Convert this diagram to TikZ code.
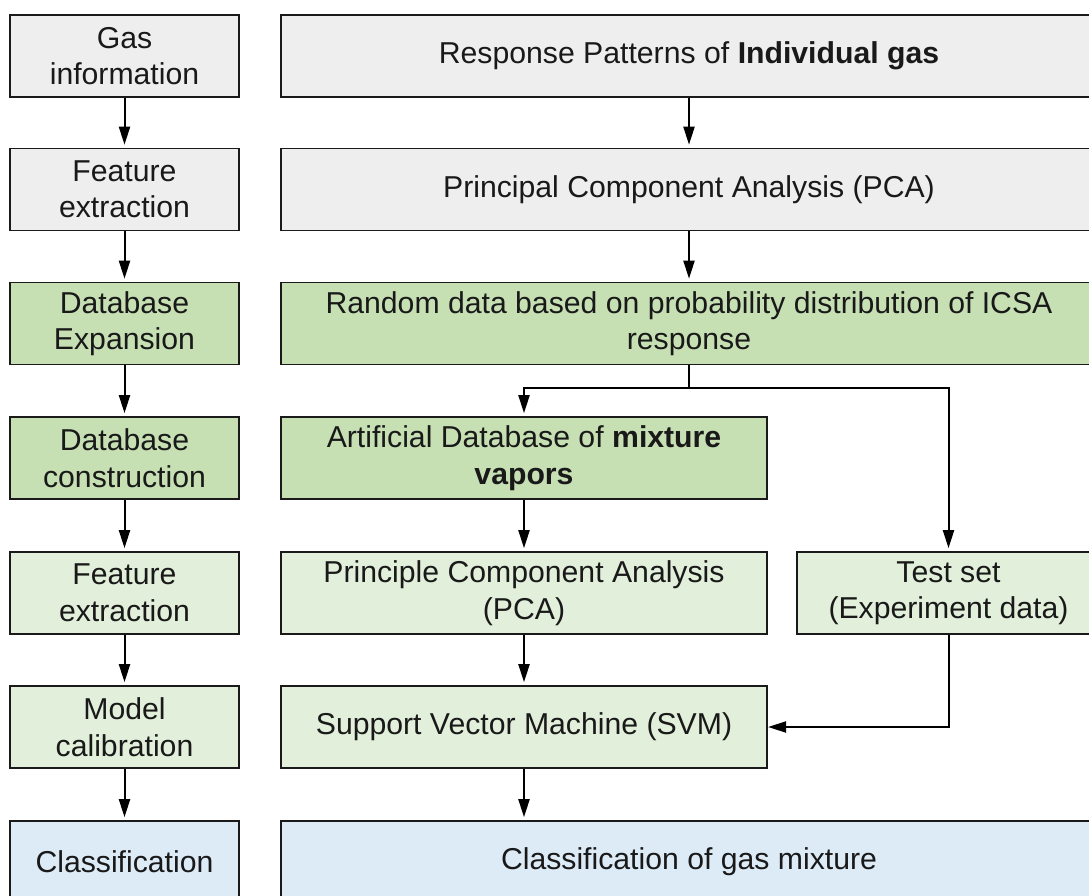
\documentclass[tikz,border=0pt]{standalone}
\usepackage{fontspec}
\setmainfont{Liberation Sans}
\usetikzlibrary{arrows.meta}
\definecolor{cgray}{HTML}{EEEEEE}
\definecolor{cdgreen}{HTML}{C6E0B4}
\definecolor{clgreen}{HTML}{E2EFDA}
\definecolor{cblue}{HTML}{DDEBF7}
\definecolor{cline}{HTML}{1A1A1A}
\tikzset{
  box/.style={draw=cline, line width=1.6pt, inner sep=0pt, align=center,
    minimum height=82pt, text=black!90,
    font=\fontsize{30.2}{36.5}\selectfont},
  lbox/.style={box, minimum width=229pt},
  wbox/.style={box, minimum width=816pt},
  hbox/.style={box, minimum width=486.5pt},
  arr/.style={draw=black, line width=2pt, -{Triangle[length=18pt,width=11pt]}, shorten >=3pt},
  ln/.style={draw=black, line width=2pt}
}
\begin{document}
\begin{tikzpicture}[x=1pt,y=-1pt]
\useasboundingbox (0,0) rectangle (1089,896);
\clip (0,0) rectangle (1089,896);
\fill[white] (0,0) rectangle (1089,896);
% left column
\node[lbox, fill=cgray]   (l1) at (124.5,56)    {Gas\\information};
\node[lbox, fill=cgray]   (l2) at (124.5,189.5) {Feature\\extraction};
\node[lbox, fill=cdgreen] (l3) at (124.5,323.5) {Database\\Expansion};
\node[lbox, fill=cdgreen] (l4) at (124.5,458)   {Database\\construction};
\node[lbox, fill=clgreen] (l5) at (124.5,593)   {Feature\\extraction};
\node[lbox, fill=clgreen] (l6) at (124.5,727)   {Model\\calibration};
\node[lbox, fill=cblue]   (l7) at (124.5,862)   {Classification};
% right column
\node[wbox, fill=cgray]   (r1) at (689,56)    {Response Patterns of \textbf{Individual gas}};
\node[wbox, fill=cgray]   (r2) at (689,189.5) {Principal Component Analysis (PCA)};
\node[wbox, fill=cdgreen] (r3) at (689,323.5) {Random data based on probability distribution of ICSA\\response};
\node[hbox, fill=cdgreen] (r4) at (524,458)   {Artificial Database of \textbf{mixture}\\\textbf{vapors}};
\node[hbox, fill=clgreen] (r5) at (524,593)   {Principle Component Analysis\\(PCA)};
\node[box, minimum width=303pt, fill=clgreen] (t5) at (948.5,593) {Test set\\(Experiment data)};
\node[hbox, fill=clgreen] (r6) at (524,727)   {Support Vector Machine (SVM)};
\node[wbox, fill=cblue]   (r7) at (689,862)   {Classification of gas mixture};
% left arrows
\draw[arr] (l1) -- (l2);
\draw[arr] (l2) -- (l3);
\draw[arr] (l3) -- (l4);
\draw[arr] (l4) -- (l5);
\draw[arr] (l5) -- (l6);
\draw[arr] (l6) -- (l7);
% right arrows
\draw[arr] (r1) -- (r2);
\draw[arr] (r2) -- (r3);
\coordinate (j) at (689,388);
\draw[ln] (r3.south) -- (j);
\draw[arr] (j) -| (r4.north);
\draw[arr] (j) -| (t5.north);
\draw[arr] (r4) -- (r5);
\draw[arr] (r5) -- (r6);
\draw[arr, shorten >=0pt] (t5.south) |- (r6.east);
\draw[arr] (r6.south) -- (r6.south |- r7.north);
\end{tikzpicture}
\end{document}
